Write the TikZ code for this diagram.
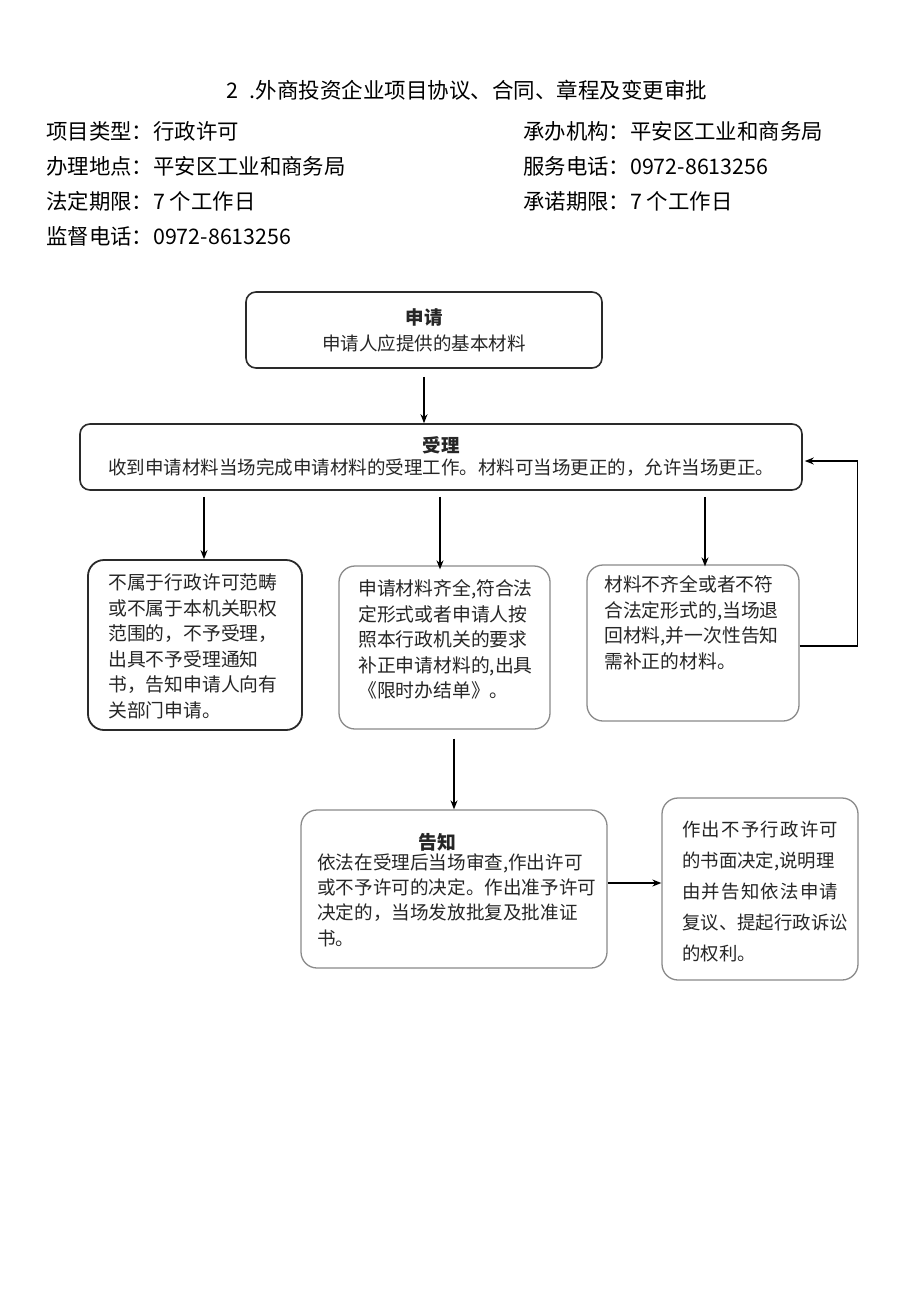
\documentclass[tikz,border=0pt]{standalone}
\usepackage{fontspec}
\setmainfont{Noto Sans CJK SC}
\usetikzlibrary{arrows.meta}
\definecolor{darkb}{HTML}{2A2A2A}
\definecolor{lightb}{HTML}{8A8A8A}
\definecolor{txt}{HTML}{262626}
\tikzset{
  darkbox/.style={draw=darkb, line width=1.6pt, rounded corners=10pt, inner sep=0pt},
  thickbox/.style={draw=darkb, line width=1.8pt, rounded corners=16pt, inner sep=0pt},
  lightbox/.style={draw=lightb, line width=1.3pt, rounded corners=16pt, inner sep=0pt},
  hdr/.style={anchor=west, inner sep=0pt, text=black, font=\fontsize{21.4}{24}\selectfont},
  bodytxt/.style={anchor=west, inner sep=0pt, align=left, text=txt, font=\fontsize{18.8}{25.5}\selectfont},
  arr/.style={draw=black, line width=1.4pt, -{Stealth[length=9pt,width=7pt]}}
}
\begin{document}
\begin{tikzpicture}[x=1pt,y=-1pt]
\useasboundingbox[fill=white] (0,0) rectangle (920,1301);
% title and header
\node[inner sep=0pt, font=\fontsize{21.5}{24}\selectfont] (title) at (467,90) {2\enspace.外商投资企业项目协议、合同、章程及变更审批};
\node[hdr] (h1) at (46,131) {项目类型：行政许可};
\node[hdr] (h2) at (523,131) {承办机构：平安区工业和商务局};
\node[hdr] (h3) at (46,166) {办理地点：平安区工业和商务局};
\node[hdr] (h4) at (523,166) {服务电话：0972-8613256};
\node[hdr] (h5) at (46,201) {法定期限：7 个工作日};
\node[hdr] (h6) at (523,201) {承诺期限：7 个工作日};
\node[hdr] (h7) at (46,236) {监督电话：0972-8613256};
% boxes
\node[darkbox, minimum width=356pt, minimum height=76pt, align=center, text=txt,
  font=\fontsize{18.5}{26}\selectfont] (apply) at (424,330) {{\bfseries 申请}\\申请人应提供的基本材料};
\node[darkbox, minimum width=722pt, minimum height=66pt, align=center, text=txt,
  font=\fontsize{18.5}{22}\selectfont] (shouli) at (441,457) {{\bfseries 受理}\\收到申请材料当场完成申请材料的受理工作。材料可当场更正的，允许当场更正。};
\node[thickbox, minimum width=214pt, minimum height=170pt] (b1) at (195,645) {};
\node[lightbox, minimum width=211pt, minimum height=163pt] (b2) at (444.5,647.5) {};
\node[lightbox, minimum width=212pt, minimum height=156pt] (b3) at (693,643) {};
\node[lightbox, minimum width=306pt, minimum height=158pt] (gaozhi) at (454,889) {};
\node[lightbox, minimum width=196pt, minimum height=182pt] (b5) at (760,889) {};
% box texts
\node[bodytxt] (t1) at (108,646.5) {不属于行政许可范畴\\或不属于本机关职权\\范围的，不予受理，\\出具不予受理通知\\书，告知申请人向有\\关部门申请。};
\node[bodytxt] (t2) at (358,639.5) {申请材料齐全,符合法\\定形式或者申请人按\\照本行政机关的要求\\补正申请材料的,出具\\《限时办结单》。};
\node[bodytxt] (t3) at (604,622.5) {材料不齐全或者不符\\合法定形式的,当场退\\回材料,并一次性告知\\需补正的材料。};
\node[inner sep=0pt, text=txt, font=\fontsize{18.8}{22}\selectfont\bfseries] (t4a) at (437,842) {告知};
\node[bodytxt, font=\fontsize{18.6}{25.3}\selectfont] (t4) at (317,900) {依法在受理后当场审查,作出许可\\或不予许可的决定。作出准予许可\\决定的，当场发放批复及批准证\\书。};
\node[bodytxt, font=\fontsize{18.4}{31}\selectfont] (t5) at (682,892) {\makebox[156pt][s]{作\hfill 出\hfill 不\hfill 予\hfill 行\hfill 政\hfill 许\hfill 可}\\的书面决定,说明理\\\makebox[156pt][s]{由\hfill 并\hfill 告\hfill 知\hfill 依\hfill 法\hfill 申\hfill 请}\\复议、提起行政诉讼\\的权利。};
% connectors
\draw[arr] ([yshift=-8pt]apply.south) -- (apply |- shouli.north);
\draw[arr] ([xshift=9pt,yshift=-6pt]b1.north |- shouli.south) -- ([xshift=9pt]b1.north);
\draw[arr] ([xshift=-4.5pt,yshift=-6pt]b2.north |- shouli.south) -- ([xshift=-4.5pt,yshift=-4pt]b2.north);
\draw[arr] ([xshift=12pt,yshift=-6pt]b3.north |- shouli.south) -- ([xshift=12pt,yshift=-2pt]b3.north);
\draw[arr] ([yshift=-9pt]gaozhi.north |- b2.south) -- (gaozhi.north);
\draw[arr] ([yshift=6pt]gaozhi.east) -- ([yshift=6pt]b5.west);
\draw[arr] ([yshift=-3pt]b3.east) -- ++(58,0) |- ([yshift=-4pt,xshift=2pt]shouli.east);
\end{tikzpicture}
\end{document}
